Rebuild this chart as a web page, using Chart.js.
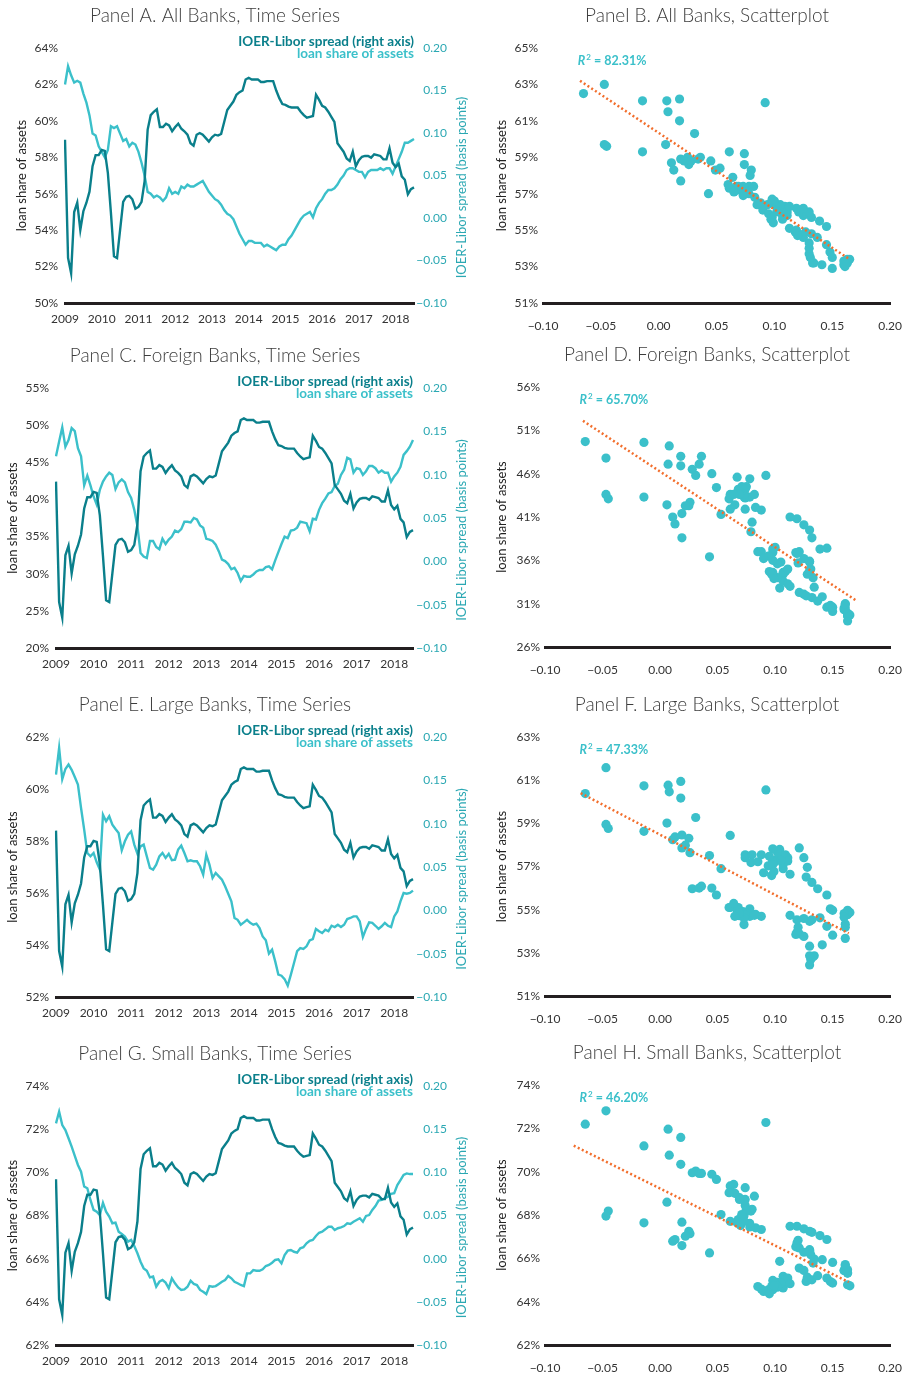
<!DOCTYPE html>
<html>
<head>
<meta charset="utf-8">
<script src="https://cdn.jsdelivr.net/npm/chart.js@4/dist/chart.umd.min.js"></script>
<style>
  body { margin: 0; background: #fff; width: 918px; height: 1376px; position: relative; overflow: hidden; }
  canvas { position: absolute; }
</style>
</head>
<body>
<canvas id="chartA"></canvas>
<canvas id="chartB"></canvas>
<canvas id="chartC"></canvas>
<canvas id="chartD"></canvas>
<canvas id="chartE"></canvas>
<canvas id="chartF"></canvas>
<canvas id="chartG"></canvas>
<canvas id="chartH"></canvas>
<script>
// tick labels for the time axis (one per January)
const years = ['2009', '2010', '2011', '2012', '2013', '2014', '2015', '2016', '2017', '2018'];

// IOER-Libor spread, monthly Jan 2009 - Jul 2018 (same series in every panel)
const spread = [
  0.092, -0.047, -0.065, 0.007, 0.018, -0.014, 0.008, 0.018, 0.031, 0.061,
  0.074, 0.074, 0.080, 0.079, 0.053, 0.006, -0.045, -0.047, -0.014, 0.019,
  0.025, 0.026, 0.022, 0.011, 0.013, 0.019, 0.043, 0.104, 0.121, 0.125,
  0.128, 0.107, 0.107, 0.111, 0.109, 0.102, 0.107, 0.111, 0.105, 0.102,
  0.098, 0.088, 0.085, 0.098, 0.100, 0.098, 0.094, 0.090, 0.095, 0.098,
  0.097, 0.099, 0.113, 0.127, 0.132, 0.137, 0.145, 0.148, 0.150, 0.163,
  0.165, 0.163, 0.163, 0.163, 0.160, 0.160, 0.161, 0.161, 0.161, 0.150,
  0.141, 0.134, 0.133, 0.131, 0.130, 0.130, 0.130, 0.125, 0.121, 0.118,
  0.119, 0.120, 0.145, 0.139, 0.132, 0.130, 0.125, 0.119, 0.113, 0.088,
  0.083, 0.078, 0.070, 0.067, 0.078, 0.061, 0.068, 0.072, 0.073, 0.073,
  0.071, 0.075, 0.074, 0.073, 0.069, 0.069, 0.082, 0.065, 0.060, 0.064,
  0.049, 0.045, 0.028, 0.034, 0.036
];

// loan share of assets (%), same months
const loanAll = [
  62.0, 63.0, 62.5, 62.1, 62.2, 62.1, 61.5, 61.0, 60.3, 59.3,
  59.2, 58.6, 58.3, 58.0, 58.4, 59.7, 59.6, 59.7, 59.3, 58.9,
  59.0, 58.6, 58.8, 58.7, 58.3, 57.7, 57.0, 56.1, 56.0, 55.8,
  55.9, 55.8, 55.6, 55.8, 56.3, 56.0, 56.1, 56.0, 56.4, 56.3,
  56.5, 56.4, 56.4, 56.5, 56.6, 56.7, 56.4, 56.1, 55.9, 55.7,
  55.6, 55.4, 55.1, 54.9, 54.8, 54.6, 54.2, 53.8, 53.5, 53.2,
  53.4, 53.4, 53.3, 53.3, 53.3, 53.1, 53.2, 53.1, 53.0, 52.9,
  53.1, 53.2, 53.2, 53.5, 53.7, 54.0, 54.3, 54.6, 54.8, 54.9,
  55.0, 54.7, 55.2, 55.5, 55.7, 56.0, 56.2, 56.2, 56.3, 56.5,
  56.8, 57.0, 57.3, 57.4, 57.4, 57.3, 57.2, 57.2, 56.9, 57.2,
  57.3, 57.3, 57.3, 57.4, 57.3, 57.4, 57.4, 57.1, 57.5, 57.9,
  58.3, 58.8, 58.8, 58.9, 59.0
];
const loanForeign = [
  45.8, 47.8, 49.7, 47.1, 48.0, 49.6, 49.2, 46.9, 45.8, 41.9,
  43.2, 41.9, 40.4, 39.3, 41.3, 42.4, 43.1, 43.6, 43.3, 41.4,
  42.3, 42.7, 42.3, 41.0, 40.2, 38.6, 36.4, 32.8, 32.3, 32.1,
  34.4, 34.4, 33.6, 33.3, 34.7, 34.0, 34.6, 35.0, 35.8, 35.6,
  36.0, 37.0, 37.0, 36.9, 37.5, 37.3, 36.5, 36.2, 34.7, 34.6,
  34.4, 33.9, 33.0, 31.9, 31.7, 31.3, 30.6, 30.8, 30.1, 29.0,
  29.7, 29.6, 29.6, 29.9, 30.3, 30.5, 30.5, 30.9, 31.0, 30.6,
  31.8, 32.9, 34.0, 35.0, 34.8, 35.8, 35.9, 36.2, 37.0, 36.9,
  36.8, 35.7, 37.4, 37.3, 38.6, 39.5, 40.1, 40.8, 41.0, 41.8,
  42.1, 43.3, 44.0, 45.6, 45.4, 43.6, 44.2, 44.1, 43.3, 43.8,
  44.5, 44.5, 44.2, 43.6, 43.9, 43.6, 43.6, 42.4, 43.1, 43.6,
  44.4, 46.0, 46.5, 47.1, 48.0
];
const loanLarge = [
  60.55, 61.58, 60.38, 60.77, 60.94, 60.74, 60.46, 60.17, 59.27, 58.44,
  57.54, 57.41, 57.54, 57.18, 56.90, 59.01, 58.76, 58.95, 58.63, 58.46,
  58.31, 57.64, 57.99, 58.24, 58.37, 57.86, 57.51, 57.79, 57.86, 57.41,
  56.96, 56.90, 57.09, 57.41, 57.54, 57.35, 57.51, 57.26, 57.28, 57.67,
  57.82, 57.54, 57.22, 57.26, 57.22, 57.22, 57.03, 56.71, 57.47, 57.09,
  56.58, 56.77, 56.64, 56.51, 56.26, 55.97, 55.68, 55.04, 54.97, 54.78,
  54.87, 54.97, 54.85, 54.78, 54.82, 54.65, 54.33, 54.18, 53.67, 53.82,
  53.37, 52.86, 52.82, 52.69, 52.44, 52.86, 53.31, 53.76, 53.88, 53.85,
  53.95, 54.18, 54.23, 54.62, 54.53, 54.46, 54.59, 54.53, 54.74, 54.69,
  54.78, 54.69, 54.78, 55.00, 55.04, 55.10, 55.10, 54.91, 54.31, 54.62,
  54.87, 54.85, 54.74, 54.62, 54.72, 54.85, 54.74, 54.69, 55.10, 55.29,
  55.68, 56.00, 55.97, 56.00, 56.09
];
const loanSmall = [
  72.27, 72.81, 72.19, 71.96, 71.58, 71.19, 70.76, 70.34, 70.03, 69.34,
  69.26, 68.72, 68.26, 68.18, 68.02, 68.59, 68.18, 67.95, 67.64, 67.67,
  67.25, 67.14, 67.02, 66.79, 66.87, 66.59, 66.25, 65.86, 65.55, 65.44,
  65.13, 65.17, 64.70, 64.93, 65.01, 64.89, 64.63, 65.09, 64.86, 64.67,
  64.55, 64.58, 64.70, 64.98, 64.83, 64.78, 64.55, 64.47, 64.36, 64.73,
  64.70, 64.73, 64.83, 64.93, 65.01, 65.20, 65.09, 64.93, 64.86, 64.78,
  64.73, 65.32, 65.32, 65.47, 65.44, 65.44, 65.51, 65.66, 65.71, 65.81,
  65.94, 65.97, 65.78, 66.17, 66.37, 66.40, 66.32, 66.28, 66.48, 66.53,
  66.71, 66.83, 66.87, 67.05, 67.20, 67.25, 67.36, 67.48, 67.48, 67.33,
  67.41, 67.45, 67.51, 67.64, 67.61, 67.71, 67.79, 67.87, 67.71, 67.98,
  68.02, 68.26, 68.44, 68.69, 68.72, 68.80, 68.87, 69.00, 69.03, 69.41,
  69.64, 69.88, 69.95, 69.92, 69.92
];

// fitted trend lines: [x, y] end points
const trendAll = [[-0.068, 63.2], [0.165, 53.4]];
const trendForeign = [[-0.067, 52.1], [0.170, 31.4]];
const trendLarge = [[-0.069, 60.4], [0.164, 53.9]];
const trendSmall = [[-0.075, 71.2], [0.164, 64.9]];
const r2Labels = ['82.31%', '65.70%', '47.33%', '46.20%'];

// month categories for the time axis
const months = [];
years.forEach(y => { for (let m = 1; m <= 12; m++) months.push(y + '-' + String(m).padStart(2, '0')); });
months.length = spread.length;

const DARK = '#0a7f8b';
const LIGHT = '#3bc0ca';
const AXIS_TEAL = '#2ba8b3';
const ORANGE = '#f26e2c';

Chart.defaults.font.family = 'Lato, "Open Sans", sans-serif';
Chart.defaults.font.size = 12;
Chart.defaults.color = '#333';

const fmtSpread = v => Math.abs(v) < 1e-9 ? '0.00' : (v < 0 ? '\u2212' : '') + Math.abs(v).toFixed(2);

// text drawn around the plot: panel title, legend, R², right axis title
const annot = {
  id: 'annot',
  afterDraw(chart, args, o) {
    const ctx = chart.ctx, a = chart.chartArea;
    ctx.save();
    ctx.textBaseline = 'middle';
    ctx.textAlign = 'center';
    ctx.font = '300 19px Lato';
    ctx.fillStyle = '#3d3d3d';
    ctx.fillText(o.title, o.titleX, a.top - 32);

    if (o.legend) {
      ctx.textAlign = 'right';
      ctx.font = 'bold 13.5px Lato';
      ctx.fillStyle = DARK;
      ctx.fillText(chart.data.datasets[0].label, a.right, a.top - 6);
      ctx.fillStyle = LIGHT;
      ctx.fillText(chart.data.datasets[1].label, a.right, a.top + 6);
    }

    if (o.r2) {
      const x0 = chart.scales.x.getPixelForValue(-0.07);
      const y0 = a.top + 13;
      ctx.textAlign = 'left';
      ctx.fillStyle = LIGHT;
      ctx.font = 'italic bold 12.5px Lato';
      ctx.fillText('R', x0, y0);
      let w = ctx.measureText('R').width + 1;
      ctx.font = 'bold 8px Lato';
      ctx.fillText('2', x0 + w, y0 - 4);
      w += ctx.measureText('2').width;
      ctx.font = 'bold 12.5px Lato';
      ctx.fillText(' = ' + o.r2, x0 + w, y0);
    }

    if (o.rightTitle) {
      ctx.translate(o.rightTitleX, (a.top + a.bottom) / 2 + 12);
      ctx.rotate(-Math.PI / 2);
      ctx.textAlign = 'center';
      ctx.font = '13px Lato';
      ctx.fillStyle = AXIS_TEAL;
      ctx.fillText(o.rightTitle, 0, 0);
    }
    ctx.restore();
  }
};

function place(cv, b) {
  cv.width = b.w;
  cv.height = b.h;
  cv.style.left = b.left + 'px';
  cv.style.top = b.top + 'px';
}

function timeSeries(id, b, loan, yMin, yMax, yStep, title) {
  const cv = document.getElementById(id);
  place(cv, b);
  const labelRight = 447; // right edge of the right-axis tick labels
  new Chart(cv, {
    type: 'line',
    data: {
      labels: months,
      datasets: [
        { label: 'IOER-Libor spread (right axis)', data: spread, yAxisID: 'y2',
          borderColor: DARK, borderWidth: 2.4, pointRadius: 0, tension: 0 },
        { label: 'loan share of assets', data: loan, yAxisID: 'y',
          borderColor: LIGHT, borderWidth: 2.4, pointRadius: 0, tension: 0 }
      ]
    },
    options: {
      responsive: false,
      animation: false,
      events: [],
      layout: { padding: { top: b.pt - b.top, left: 0, right: b.left + b.w - labelRight, bottom: 0 } },
      plugins: {
        legend: { display: false },
        tooltip: { enabled: false },
        annot: { title: title, titleX: 215 - b.left, legend: true,
                 rightTitle: 'IOER-Libor spread (basis points)', rightTitleX: 462 - b.left }
      },
      scales: {
        x: {
          grid: { display: false, drawTicks: false },
          border: { display: true, color: '#231f20', width: 3 },
          ticks: { autoSkip: false, maxRotation: 0, minRotation: 0, padding: 9, color: '#333',
                   callback: (v, i) => i % 12 === 0 ? years[i / 12] : '' },
          afterFit: s => { s.height = b.top + b.h - b.pb; }
        },
        y: {
          position: 'left', min: yMin, max: yMax,
          grid: { display: false, drawTicks: false },
          border: { display: false },
          ticks: { stepSize: yStep, padding: 7, color: '#333', callback: v => v + '%' },
          title: { display: true, text: 'loan share of assets', color: '#222', font: { size: 13 },
                   padding: { top: b.pl - b.left - 43 - 7.8, bottom: 0 } },
          afterFit: s => { s.width = b.pl - b.left; }
        },
        y2: {
          position: 'right', min: -0.1, max: 0.2,
          grid: { display: false, drawTicks: false },
          border: { display: false },
          ticks: { stepSize: 0.05, padding: 2, crossAlign: 'far', color: AXIS_TEAL, callback: fmtSpread },
          afterFit: s => { s.width = labelRight - b.pr; }
        }
      }
    },
    plugins: [annot]
  });
}

function scatterPlot(id, b, loan, trend, r2, yMin, yMax, yStep, title) {
  const cv = document.getElementById(id);
  place(cv, b);
  new Chart(cv, {
    type: 'scatter',
    data: {
      datasets: [
        { label: 'trend', data: trend.map(p => ({ x: p[0], y: p[1] })), showLine: true,
          borderColor: ORANGE, borderWidth: 2.5, borderDash: [2, 2.5], pointRadius: 0 },
        { label: 'loan share of assets', data: spread.map((s, i) => ({ x: s, y: loan[i] })),
          backgroundColor: LIGHT, borderWidth: 0, pointRadius: 4.6 }
      ]
    },
    options: {
      responsive: false,
      animation: false,
      events: [],
      layout: { padding: { top: b.pt - b.top, left: 0, right: b.left + b.w - b.pr, bottom: 0 } },
      plugins: {
        legend: { display: false },
        tooltip: { enabled: false },
        annot: { title: title, titleX: 707 - b.left, r2: r2 }
      },
      scales: {
        x: {
          type: 'linear', min: -0.1, max: 0.2,
          grid: { display: false, drawTicks: false },
          border: { display: true, color: '#231f20', width: 3 },
          ticks: { stepSize: 0.05, padding: 16, color: '#333', maxRotation: 0, callback: fmtSpread },
          afterFit: s => { s.height = b.top + b.h - b.pb; }
        },
        y: {
          min: yMin, max: yMax,
          grid: { display: false, drawTicks: false },
          border: { display: false },
          ticks: { stepSize: yStep, padding: 5, color: '#333', callback: v => v + '%' },
          title: { display: true, text: 'loan share of assets', color: '#222', font: { size: 13 },
                   padding: { top: 502 - b.left - 7.8, bottom: 0 } },
          afterFit: s => { s.width = b.pl - b.left; }
        }
      }
    },
    plugins: [annot]
  });
}

// panel boxes: canvas rectangle and plot-area edges, in page pixels
timeSeries('chartA', { left: 0, top: 0, w: 478, h: 340, pl: 65, pr: 414, pt: 48, pb: 303 },
  loanAll, 50, 64, 2, 'Panel A. All Banks, Time Series');
timeSeries('chartC', { left: 0, top: 340, w: 478, h: 350, pl: 56, pr: 413, pt: 388, pb: 648 },
  loanForeign, 20, 55, 5, 'Panel C. Foreign Banks, Time Series');
timeSeries('chartE', { left: 0, top: 690, w: 478, h: 340, pl: 56, pr: 413, pt: 737, pb: 997 },
  loanLarge, 52, 62, 2, 'Panel E. Large Banks, Time Series');
timeSeries('chartG', { left: 0, top: 1030, w: 478, h: 346, pl: 56, pr: 413, pt: 1086, pb: 1345 },
  loanSmall, 62, 74, 2, 'Panel G. Small Banks, Time Series');

scatterPlot('chartB', { left: 478, top: 0, w: 440, h: 340, pl: 543, pr: 895, pt: 48, pb: 303 },
  loanAll, trendAll, r2Labels[0], 51, 65, 2, 'Panel B. All Banks, Scatterplot');
scatterPlot('chartD', { left: 478, top: 340, w: 440, h: 350, pl: 545, pr: 903, pt: 387, pb: 647 },
  loanForeign, trendForeign, r2Labels[1], 26, 56, 5, 'Panel D. Foreign Banks, Scatterplot');
scatterPlot('chartF', { left: 478, top: 690, w: 440, h: 340, pl: 545, pr: 903, pt: 737, pb: 996 },
  loanLarge, trendLarge, r2Labels[2], 51, 63, 2, 'Panel F. Large Banks, Scatterplot');
scatterPlot('chartH', { left: 478, top: 1030, w: 440, h: 346, pl: 545, pr: 903, pt: 1085, pb: 1345 },
  loanSmall, trendSmall, r2Labels[3], 62, 74, 2, 'Panel H. Small Banks, Scatterplot');
</script>
</body>
</html>
